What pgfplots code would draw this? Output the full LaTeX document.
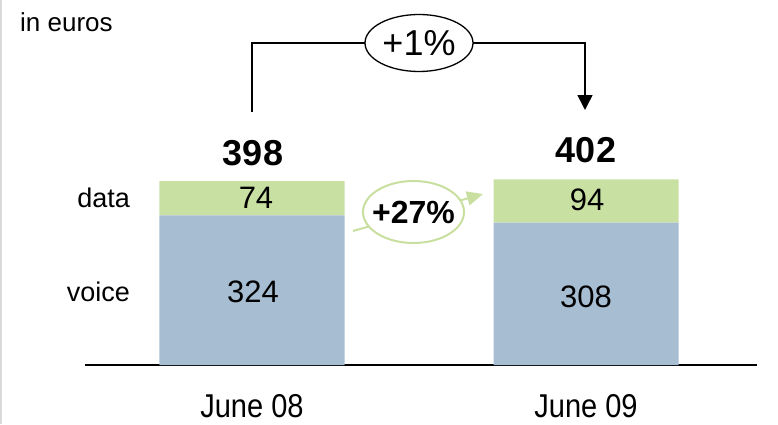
\documentclass[border=0pt]{standalone}
\usepackage{pgfplots}
\pgfplotsset{compat=1.18}
\usepackage{fontspec}
\setmainfont{Liberation Sans}
\usetikzlibrary{arrows.meta}
\definecolor{datag}{RGB}{201,224,163}
\definecolor{voiceb}{RGB}{166,189,210}
\definecolor{arrg}{RGB}{200,223,160}
\newcommand{\fs}[1]{\fontsize{#1}{#1}\selectfont}
\begin{document}
\begin{tikzpicture}[x=1pt,y=1pt]
\path[use as bounding box] (0,0) rectangle (778,424);
\draw[black!15, line width=1.5pt] (1,0) -- (1,424);
\begin{axis}[
  at={(85pt,59pt)}, anchor=south west,
  scale only axis, width=672pt, height=231pt,
  xmin=-0.5, xmax=1.512, ymin=0, ymax=500,
  ybar stacked, bar width=185pt,
  axis x line*=bottom, axis y line=none,
  x axis line style={line width=1.6pt,-},
  xtick=\empty, ytick=\empty,
  clip=false,
]
\addplot[fill=voiceb, draw=none] coordinates {(0,324) (1,308)};
\addplot[fill=datag, draw=none] coordinates {(0,74) (1,94)};
\end{axis}
\node[font=\fs{31}] at (253,132) {324};
\node[font=\fs{31}] at (586,127) {308};
\node[font=\fs{31}] at (256,226) {74};
\node[font=\fs{31}] at (587,224) {94};
\node[font=\bfseries\fs{36}] at (253,271) {398};
\node[font=\bfseries\fs{36}] at (586,274) {402};
\node[inner sep=0pt] at (252,18) {\scalebox{0.88}[1]{\fs{33}June 08}};
\node[inner sep=0pt] at (586,18) {\scalebox{0.88}[1]{\fs{33}June 09}};
\node[anchor=west, inner sep=0pt, font=\fs{26}] at (20,402) {in euros};
\node[anchor=east, inner sep=0pt, font=\fs{27}] at (130,226) {data};
\node[anchor=east, inner sep=0pt, font=\fs{27}] at (130,132) {voice};
% +1% bracket
\draw[line width=1.5pt, -{Triangle[length=15pt,width=15pt]}] (252,312) -- (252,381) -- (585,381) -- (585,314);
\draw[line width=1.3pt, fill=white] (419,381) ellipse [x radius=54, y radius=28.5];
\node[font=\fs{36}] at (419,381) {+1\%};
% +27% arrow
\draw[arrg, line width=2pt, -{Triangle[length=16pt,width=14pt]}] (353,193) -- (483,230);
\draw[arrg, line width=2pt, fill=white] (413.5,212) ellipse [x radius=50.5, y radius=31];
\node[font=\bfseries\fs{32}] at (413.5,212) {+27\%};
\end{tikzpicture}
\end{document}
